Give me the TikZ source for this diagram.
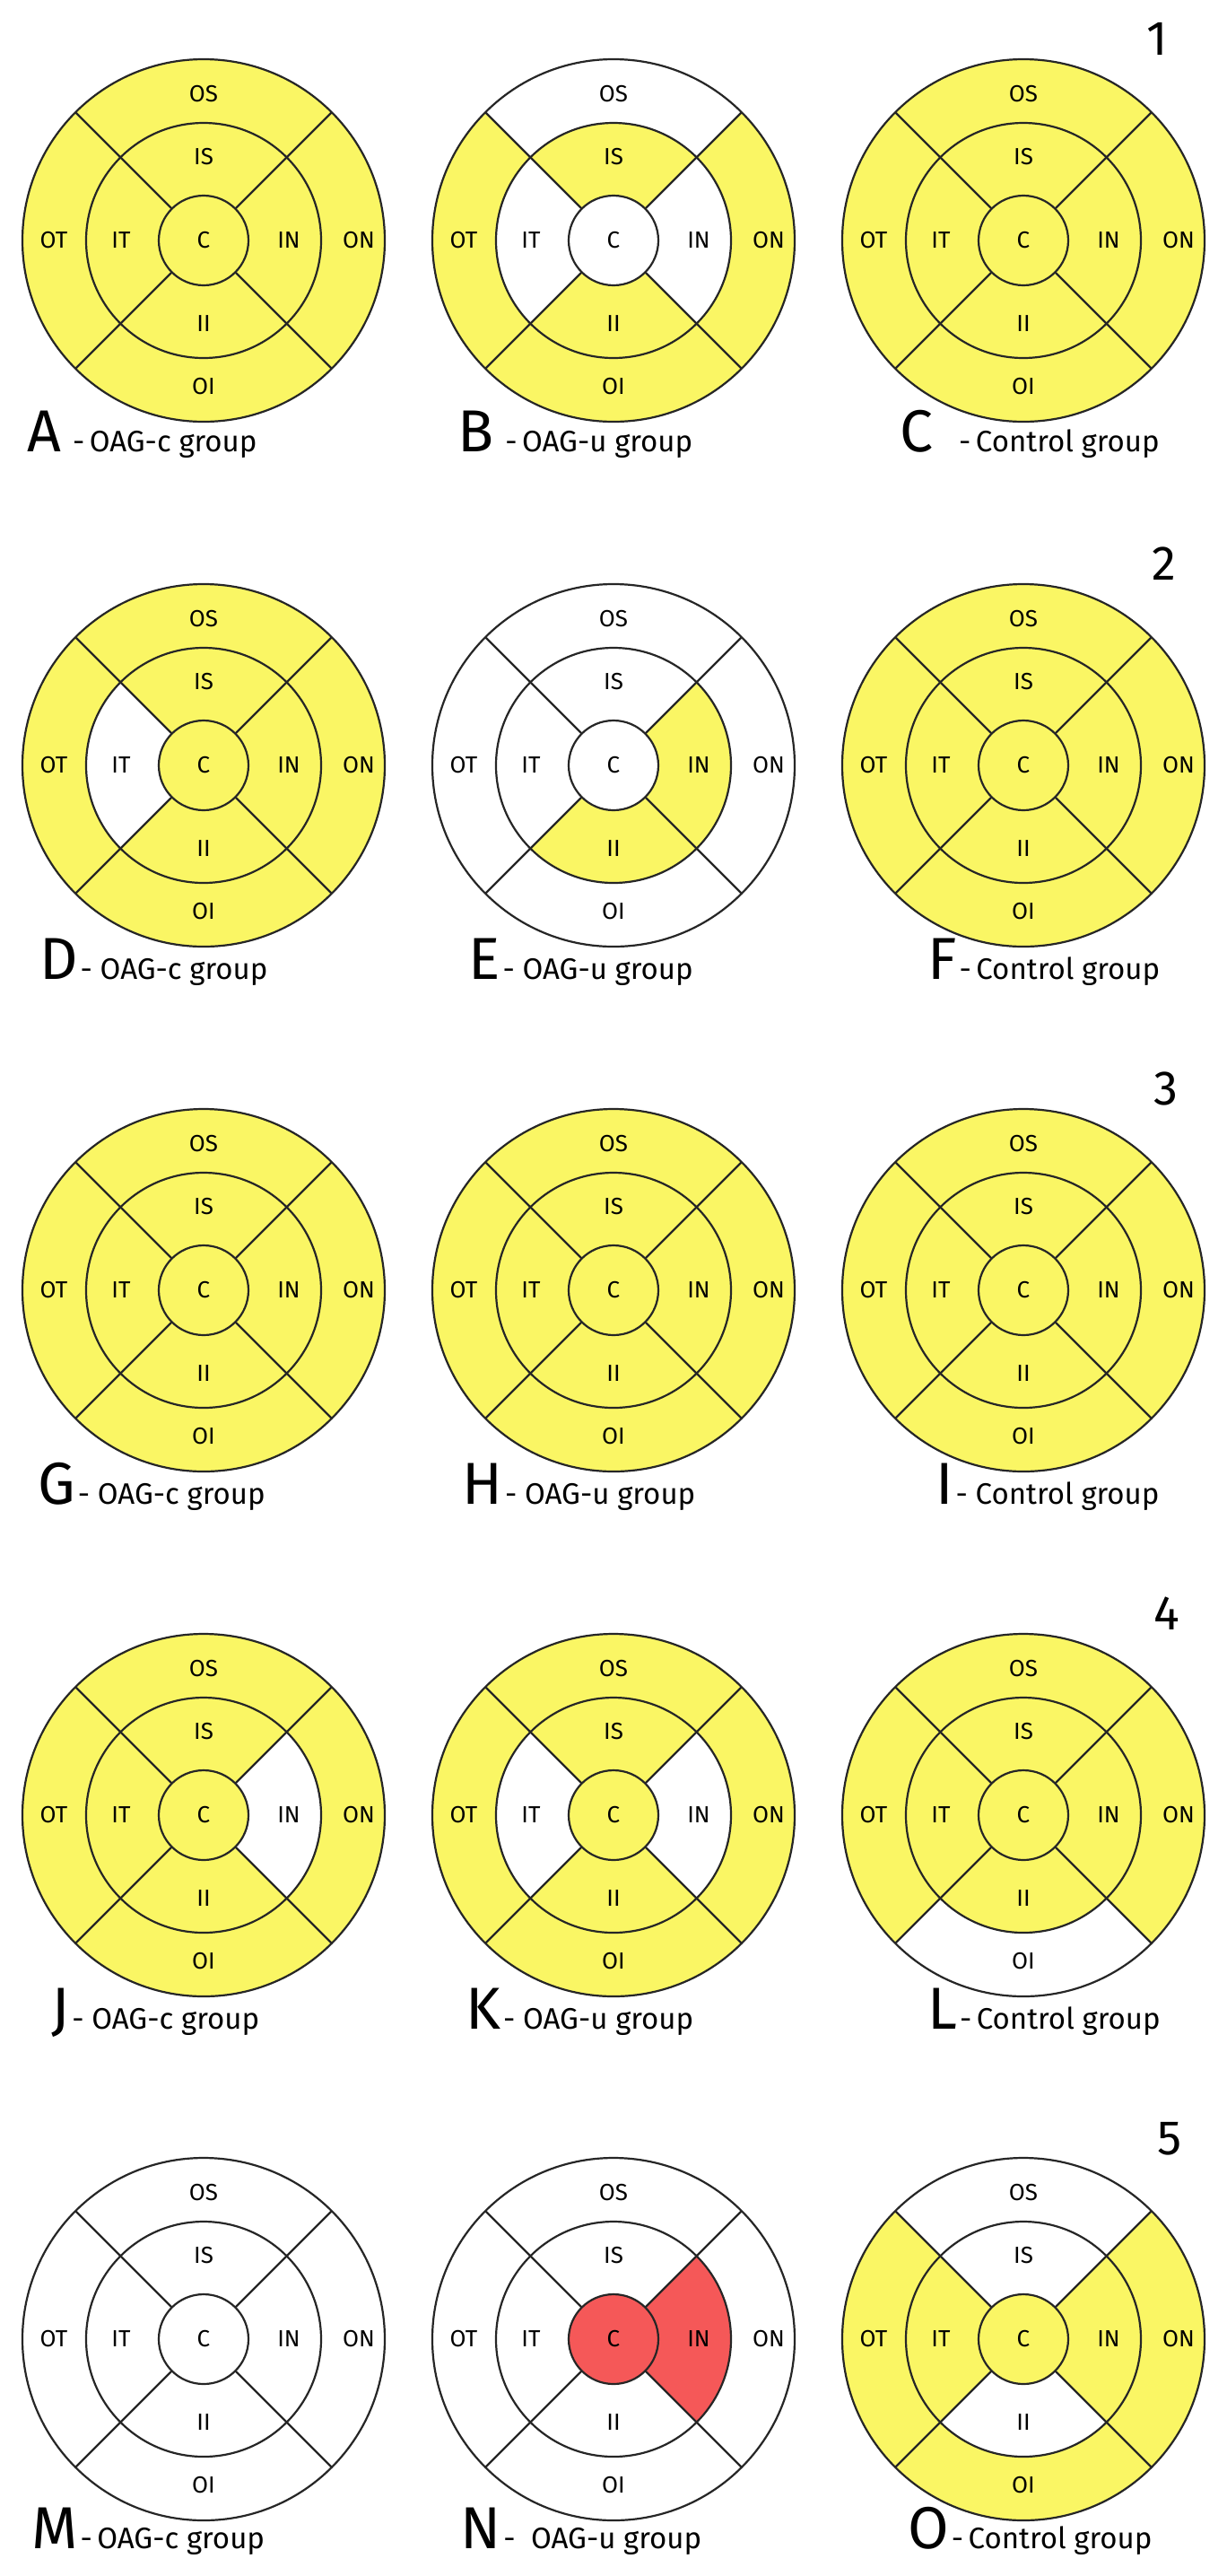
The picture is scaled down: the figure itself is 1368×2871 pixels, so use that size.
\documentclass[tikz,border=0pt]{standalone}
\usepackage{fontspec}
\setmainfont{Fira Sans}
\definecolor{yel}{RGB}{250,246,100}
\definecolor{redf}{RGB}{245,88,88}
\tikzset{
  seglab/.style={font=\fontsize{13}{15}\selectfont, inner sep=0pt},
  bigletter/.style={font=\fontsize{33}{36}\selectfont, inner sep=0pt, anchor=base west},
  captxt/.style={font=\fontsize{16.5}{19}\selectfont, inner sep=0pt, anchor=base west},
  numlab/.style={font=\fontsize{27}{30}\selectfont, inner sep=0pt, anchor=base west},
  ringline/.style={line width=1.1pt, draw=black!85}
}
\newcommand\panel[4]{%
\begin{scope}[shift={(#1,-#2)}]
 \foreach \c [count=\i] in {#3} {
  \ifnum\i=1
    \fill[\c] (0,0) circle[radius=50];
  \else
    \pgfmathsetmacro\a{45+90*mod(\i-2,4)}
    \pgfmathsetmacro\r{\i<6 ? 50 : 131}
    \pgfmathsetmacro\R{\i<6 ? 131 : 202}
    \fill[\c] (\a:\R) arc[start angle=\a,delta angle=90,radius=\R] -- (\a+90:\r) arc[start angle=\a+90,delta angle=-90,radius=\r] -- cycle;
  \fi
 }
 \draw[ringline] (0,0) circle[radius=202] (0,0) circle[radius=131] (0,0) circle[radius=50];
 \foreach \t in {45,135,225,315} \draw[ringline] (\t:50) -- (\t:202);
 \node[seglab] (#4C) at (0,0) {C};
 \node[seglab] (#4IS) at (90:93) {IS};
 \node[seglab] (#4II) at (270:93) {II};
 \node[seglab] (#4IT) at (180:92) {IT};
 \node[seglab] (#4IN) at (0:95) {IN};
 \node[seglab] (#4OS) at (90:163) {OS};
 \node[seglab] (#4OI) at (270:163) {OI};
 \node[seglab] (#4OT) at (180:167) {OT};
 \node[seglab] (#4ON) at (0:173) {ON};
\end{scope}}
\newcommand\caplab[5]{%
 \node[bigletter] (L#1) at (#2,-#3) {#1};
 \node[captxt] (T#1) at ([xshift=#5pt]L#1.base east) {#4};
}
\begin{document}
\begin{tikzpicture}[x=0.5pt,y=0.5pt]
\fill[white] (0,0) rectangle (1368,-2871);
\useasboundingbox (0,0) rectangle (1368,-2871);
% order: C, IS, IT, II, IN, OS, OT, OI, ON
% row 1
\panel{227}{268}{yel,yel,yel,yel,yel,yel,yel,yel,yel}{a}
\panel{684}{268}{white,yel,white,yel,white,white,yel,yel,yel}{b}
\panel{1141}{268}{yel,yel,yel,yel,yel,yel,yel,yel,yel}{c}
% row 2
\panel{227}{853}{yel,yel,white,yel,yel,yel,yel,yel,yel}{d}
\panel{684}{853}{white,white,white,yel,yel,white,white,white,white}{e}
\panel{1141}{853}{yel,yel,yel,yel,yel,yel,yel,yel,yel}{f}
% row 3
\panel{227}{1438}{yel,yel,yel,yel,yel,yel,yel,yel,yel}{g}
\panel{684}{1438}{yel,yel,yel,yel,yel,yel,yel,yel,yel}{h}
\panel{1141}{1438}{yel,yel,yel,yel,yel,yel,yel,yel,yel}{i}
% row 4
\panel{227}{2023}{yel,yel,yel,yel,white,yel,yel,yel,yel}{j}
\panel{684}{2023}{yel,yel,white,yel,white,yel,yel,yel,yel}{k}
\panel{1141}{2023}{yel,yel,yel,yel,yel,yel,yel,white,yel}{l}
% row 5
\panel{227}{2607}{white,white,white,white,white,white,white,white,white}{m}
\panel{684}{2607}{redf,white,white,white,redf,white,white,white,white}{n}
\panel{1141}{2607}{yel,white,yel,white,yel,white,yel,yel,yel}{o}
% captions
\caplab{A}{30}{503}{-\,OAG-c group}{6}
\caplab{B}{510}{503}{-\,OAG-u group}{6}
\caplab{C}{1003}{503}{-\,Control group}{14}
\caplab{D}{44}{1091}{-\ OAG-c group}{1}
\caplab{E}{522}{1091}{-\ OAG-u group}{1}
\caplab{F}{1034}{1091}{-\,Control group}{1}
\caplab{G}{42}{1676}{-\ OAG-c group}{1}
\caplab{H}{515}{1676}{-\ OAG-u group}{1}
\caplab{I}{1043}{1676}{-\ Control group}{1}
\caplab{J}{57}{2261}{-\ OAG-c group}{1}
\caplab{K}{519}{2261}{-\ OAG-u group}{1}
\caplab{L}{1034}{2261}{-\,Control group}{1}
\caplab{M}{35}{2840}{-\,OAG-c group}{1}
\caplab{N}{513}{2840}{-\ \ OAG-u group}{1}
\caplab{O}{1012}{2840}{-\,Control group}{1}
% numbers
\node[numlab] (n1) at (1278,-61) {1};
\node[numlab] (n2) at (1284,-646) {2};
\node[numlab] (n3) at (1286,-1231) {3};
\node[numlab] (n4) at (1286,-1816) {4};
\node[numlab] (n5) at (1290,-2401) {5};
\end{tikzpicture}
\end{document}
